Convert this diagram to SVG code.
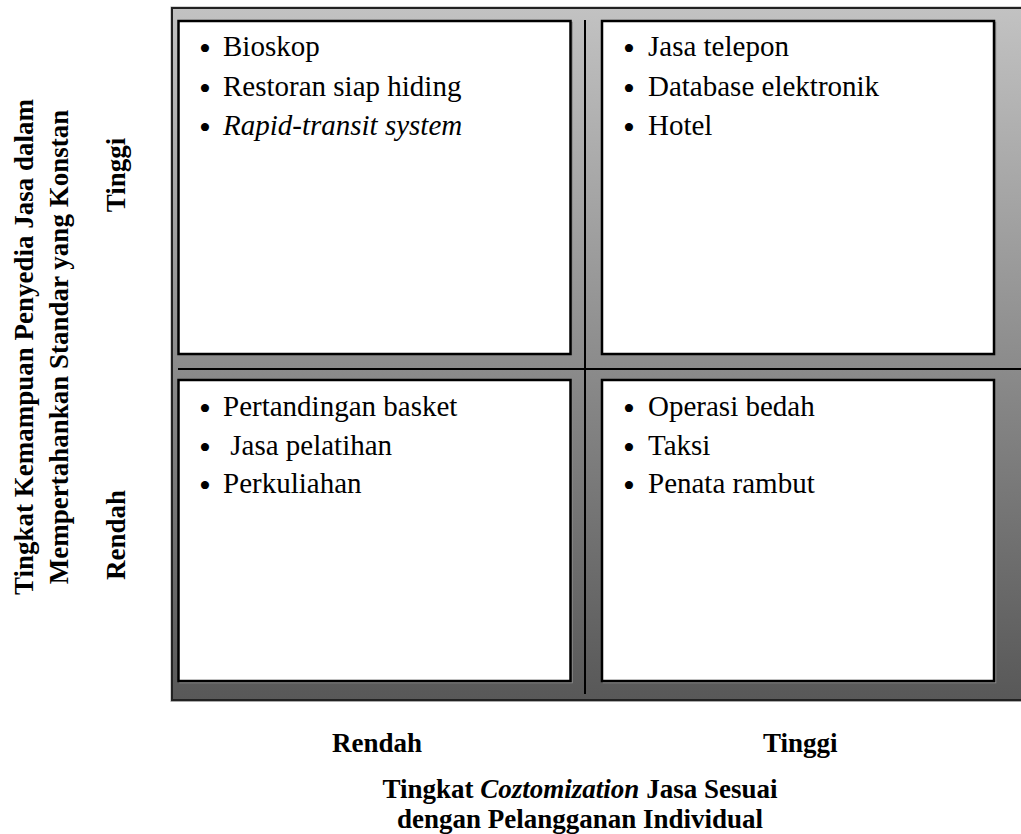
<svg xmlns="http://www.w3.org/2000/svg" width="1021" height="834" viewBox="0 0 1021 834">
<defs>
<linearGradient id="bg" x1="0" y1="0" x2="0" y2="1">
<stop offset="0" stop-color="#c2c2c2"/>
<stop offset="1" stop-color="#585858"/>
</linearGradient>
</defs>
<style>
.item{font-family:'Liberation Serif','Times New Roman',serif;font-size:29px;font-weight:normal;fill:#000}
.bul{font-family:'Liberation Serif','Times New Roman',serif;font-size:34px;fill:#000}
.lab{font-family:'Liberation Serif','Times New Roman',serif;font-size:27px;font-weight:bold;fill:#000}
.box{fill:#fff;stroke:#000;stroke-width:2.5}
.shadow{fill:none;stroke:#8a8a8a;stroke-width:1.5}
.div{stroke:#000;stroke-width:2;fill:none}
</style>
<rect width="1021" height="834" fill="#fff"/>
<g id="frame">
<rect x="171" y="7" width="862" height="694.5" fill="none" stroke="#aaa" stroke-width="1"/>
<rect x="172" y="8" width="860" height="692" fill="url(#bg)" stroke="#222" stroke-width="2"/>
</g>
<g id="connectors">
<line class="div" x1="585" y1="20" x2="585" y2="694"/>
<line class="div" x1="178" y1="369" x2="1021" y2="369"/>
</g>
<g id="q-tl">
<rect class="shadow" x="180" y="22.5" width="392" height="333"/>
<rect class="box" x="178.5" y="21" width="392" height="333"/>
<text class="bul" x="199" y="60">•</text><text class="item" x="223" y="56">Bioskop</text>
<text class="bul" x="199" y="100">•</text><text class="item" x="223" y="96">Restoran siap hiding</text>
<text class="bul" x="199" y="139">•</text><text class="item" x="223" y="135" font-style="italic">Rapid-transit system</text>
</g>
<g id="q-tr">
<rect class="shadow" x="603.5" y="22.5" width="392" height="333"/>
<rect class="box" x="602" y="21" width="392" height="333"/>
<text class="bul" x="623" y="60">•</text><text class="item" x="648" y="56">Jasa telepon</text>
<text class="bul" x="623" y="100">•</text><text class="item" x="648" y="96">Database elektronik</text>
<text class="bul" x="623" y="139">•</text><text class="item" x="648" y="135">Hotel</text>
</g>
<g id="q-bl">
<rect class="shadow" x="180" y="381.5" width="392" height="301"/>
<rect class="box" x="178.5" y="380" width="392" height="301"/>
<text class="bul" x="199" y="420">•</text><text class="item" x="223" y="416">Pertandingan basket</text>
<text class="bul" x="199" y="459">•</text><text class="item" x="223" y="455" xml:space="preserve"> Jasa pelatihan</text>
<text class="bul" x="199" y="497">•</text><text class="item" x="223" y="493">Perkuliahan</text>
</g>
<g id="q-br">
<rect class="shadow" x="603.5" y="381.5" width="392" height="301"/>
<rect class="box" x="602" y="380" width="392" height="301"/>
<text class="bul" x="623" y="420">•</text><text class="item" x="648" y="416">Operasi bedah</text>
<text class="bul" x="623" y="459">•</text><text class="item" x="648" y="455">Taksi</text>
<text class="bul" x="623" y="497">•</text><text class="item" x="648" y="493">Penata rambut</text>
</g>
<g id="y-axis">
<text class="lab" text-anchor="middle" transform="translate(33,347) rotate(-90)">Tingkat Kemampuan Penyedia Jasa dalam</text>
<text class="lab" text-anchor="middle" transform="translate(68,347) rotate(-90)">Mempertahankan Standar yang Konstan</text>
<text class="lab" text-anchor="middle" transform="translate(125,175) rotate(-90)">Tinggi</text>
<text class="lab" text-anchor="middle" transform="translate(125,535) rotate(-90)">Rendah</text>
</g>
<g id="x-axis">
<text class="lab" x="332" y="752">Rendah</text>
<text class="lab" x="763" y="752">Tinggi</text>
<text class="lab" x="580" y="798" text-anchor="middle">Tingkat <tspan font-style="italic">Coztomization</tspan> Jasa Sesuai</text>
<text class="lab" x="580" y="828" text-anchor="middle">dengan Pelangganan Individual</text>
</g>
</svg>
